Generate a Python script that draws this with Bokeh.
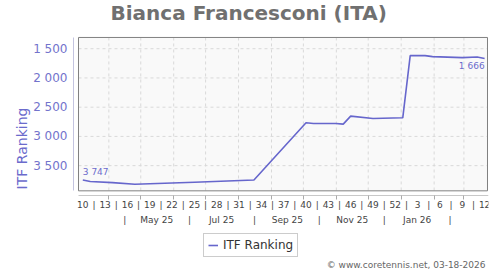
from datetime import date
from bokeh.plotting import figure
from bokeh.models import Range1d, FixedTicker, LinearAxis, Legend, LegendItem, Label
from bokeh.core.properties import value
from bokeh.embed import file_html
from bokeh.resources import INLINE

# ---------------- data ----------------
TITLE = "Bianca Francesconi (ITA)"
SERIES_NAME = "ITF Ranking"
COPYRIGHT = "\u00a9 www.coretennis.net, 03-18-2026"

# ranking readings: ISO year / ISO week / ranking
reading_year = [2025, 2025, 2025, 2025, 2025, 2025, 2025, 2025, 2025, 2025,
                2025, 2025, 2026, 2026, 2026, 2026, 2026, 2026, 2026]
reading_week = [10, 11, 14, 17, 25, 33, 40, 41, 44, 45,
                46, 49, 1, 2, 4, 5, 9, 11, 12]
ranking = [3747, 3772, 3790, 3818, 3783, 3745, 2767, 2778, 2778, 2790,
           2653, 2693, 2682, 1619, 1619, 1636, 1653, 1643, 1666]

# week-number tick labels (ISO year, week)
week_tick_year = [2025] * 15 + [2026] * 4
week_tick_week = [10, 13, 16, 19, 22, 25, 28, 31, 34, 37, 40, 43, 46, 49, 52, 3, 6, 9, 12]

# month grid (first day of month)
grid_month_year = [2025] * 9 + [2026] * 3
grid_month = [4, 5, 6, 7, 8, 9, 10, 11, 12, 1, 2, 3]

# period row (mid-month)
period_year = [2025] * 9 + [2026] * 2
period_month = [4, 5, 6, 7, 8, 9, 10, 11, 12, 1, 2]
period_text = ["|", "May 25", "|", "Jul 25", "|", "Sep 25", "|", "Nov 25", "|", "Jan 26", "|"]

y_ticks = [1500, 2000, 2500, 3000, 3500]
y_tick_labels = ["1 500", "2 000", "2 500", "3 000", "3 500"]

# ---------------- helpers (day numbers) ----------------
BASE = date(2025, 3, 3)


def day(d):
    return float((d - BASE).days)


def week_pos(y, w):
    return day(date.fromisocalendar(y, w, 1)) + 4.5


xs = [week_pos(y, w) for y, w in zip(reading_year, reading_week)]
week_ticks = [week_pos(y, w) for y, w in zip(week_tick_year, week_tick_week)]
sep_ticks = [(a + b) / 2 for a, b in zip(week_ticks[:-1], week_ticks[1:])]
month_ticks = [day(date(y, m, 1)) for y, m in zip(grid_month_year, grid_month)]
period_ticks = [day(date(y, m, 16)) for y, m in zip(period_year, period_month)]

# ---------------- layout constants ----------------
X_START, X_END = -4.25, 386.15
BOX_LEFT, BOX_RIGHT = 0.45, 385.2
Y_BOTTOM, Y_TOP = 5293.6, 1120.1
AXIS_Y = 4016.0
BOX_TOP, BOX_BOTTOM = 1307.5, 3931.0

FONT = "DejaVu Sans"
LINE_COLOR = "#6666cc"
BLUE_TEXT = "#6b6bcc"

p = figure(width=500, height=270, output_backend="svg", toolbar_location=None,
           x_range=Range1d(X_START, X_END), y_range=Range1d(Y_BOTTOM, Y_TOP),
           min_border_left=73, min_border_right=12, min_border_top=25,
           min_border_bottom=0, title=TITLE)
p.outline_line_color = None
p.background_fill_color = "white"
p.border_fill_color = "white"
p.xgrid.visible = False
p.ygrid.visible = False

p.title.align = "left"
p.title.offset = 37
p.title.vertical_align = "top"
p.title.standoff = 0
p.title.text_font = FONT
p.title.text_font_size = "20px"
p.title.text_font_style = "bold"
p.title.text_color = "#707070"

# plot box
p.quad(left=[BOX_LEFT], right=[BOX_RIGHT], top=[BOX_TOP], bottom=[BOX_BOTTOM],
       fill_color="#f9f9f9", line_color=None)
# grid
p.segment(x0=month_ticks, x1=month_ticks, y0=[BOX_TOP] * len(month_ticks),
          y1=[BOX_BOTTOM] * len(month_ticks), line_color="#d9d9d9",
          line_dash="3 3", line_width=1)
p.segment(x0=[BOX_LEFT] * len(y_ticks), x1=[BOX_RIGHT] * len(y_ticks), y0=y_ticks,
          y1=y_ticks, line_color="#d9d9d9", line_dash="3 3", line_width=1)

line = p.line(xs, ranking, line_color=LINE_COLOR, line_width=1.6)

p.quad(left=[BOX_LEFT], right=[BOX_RIGHT], top=[BOX_TOP], bottom=[BOX_BOTTOM],
       fill_color=None, line_color="#808080", line_width=1)


def fmt(v):
    return f"{v:,}".replace(",", " ")


p.text(x=[xs[0]], y=[ranking[0]], text=[fmt(ranking[0])], text_font=value(FONT),
       text_font_size="9px", text_color=BLUE_TEXT, text_align="left",
       text_baseline="middle", y_offset=-8)
p.text(x=[xs[-1]], y=[ranking[-1]], text=[fmt(ranking[-1])], text_font=value(FONT),
       text_font_size="9px", text_color=BLUE_TEXT, text_align="right",
       text_baseline="middle", y_offset=8)

# y axis
ya = p.yaxis[0]
ya.ticker = FixedTicker(ticks=y_ticks)
ya.major_label_overrides = {t: s for t, s in zip(y_ticks, y_tick_labels)}
ya.major_tick_out = 0
ya.major_tick_in = 0
ya.minor_tick_out = 0
ya.minor_tick_in = 0
ya.axis_line_color = "#c4c4e0"
ya.bounds = (BOX_TOP, BOX_BOTTOM)
ya.major_label_text_font = FONT
ya.major_label_text_font_size = "12px"
ya.major_label_text_color = "#7373cc"
ya.major_label_standoff = 6
ya.axis_label = SERIES_NAME
ya.axis_label_text_font = FONT
ya.axis_label_text_font_size = "14px"
ya.axis_label_text_font_style = "normal"
ya.axis_label_text_color = BLUE_TEXT
ya.axis_label_standoff = 0

# x axis: week numbers
xa = p.xaxis[0]
overrides = {t: str(w) for t, w in zip(week_ticks, week_tick_week)}
overrides.update({t: "|" for t in sep_ticks})
xa.ticker = FixedTicker(ticks=sorted(week_ticks + sep_ticks), minor_ticks=month_ticks)
xa.major_label_overrides = overrides
xa.fixed_location = AXIS_Y
xa.major_tick_out = 0
xa.major_tick_in = 0
xa.minor_tick_out = 4
xa.minor_tick_in = 0
xa.minor_tick_line_color = "#aaaaaa"
xa.axis_line_color = "#c8c8c8"
xa.bounds = (BOX_LEFT, X_END)
xa.major_label_text_font = FONT
xa.major_label_text_font_size = "9px"
xa.major_label_text_color = "#444444"
xa.major_label_standoff = 0

# x axis: periods
xb = LinearAxis(ticker=FixedTicker(ticks=period_ticks, minor_ticks=[]))
xb.major_label_overrides = {t: s for t, s in zip(period_ticks, period_text)}
xb.fixed_location = AXIS_Y
xb.axis_line_color = None
xb.major_tick_line_color = None
xb.minor_tick_line_color = None
xb.major_tick_out = 0
xb.major_tick_in = 0
xb.major_label_text_font = FONT
xb.major_label_text_font_size = "9px"
xb.major_label_text_color = "#444444"
xb.major_label_standoff = 19
p.add_layout(xb, "below")

legend = Legend(items=[LegendItem(label=SERIES_NAME, renderers=[line])],
                location=(130, 13), orientation="vertical")
legend.border_line_color = "#999999"
legend.background_fill_color = "white"
legend.background_fill_alpha = 1
legend.label_text_font = FONT
legend.label_text_font_size = "12px"
legend.label_text_color = "#333333"
legend.glyph_width = 10
legend.glyph_height = 14
legend.label_height = 14
legend.label_standoff = 5
legend.padding = 4
legend.margin = 0
legend.spacing = 0
p.add_layout(legend, "center")

copy = Label(x=412, y=6, x_units="screen", y_units="screen", text=COPYRIGHT,
             text_font=FONT, text_font_size="9px", text_color="#666666",
             text_align="right", text_baseline="middle")
p.add_layout(copy)

open("out.html", "w").write(file_html(p, INLINE))
